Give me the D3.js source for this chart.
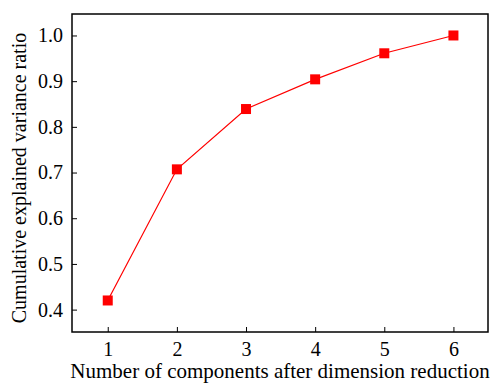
<!DOCTYPE html>
<html>
<head>
<meta charset="utf-8">
<script src="https://cdn.jsdelivr.net/npm/d3@7"></script>
<style>
  body { margin: 0; background: #fff; }
  svg { display: block; }
</style>
</head>
<body>
<div id="container"></div>
<script>
/* data */
const components = [1, 2, 3, 4, 5, 6];
const cumRatio = [0.42, 0.707, 0.839, 0.904, 0.961, 1.0];
const xTicks = [1, 2, 3, 4, 5, 6];
const yTicks = [0.4, 0.5, 0.6, 0.7, 0.8, 0.9, 1.0];

const width = 495, height = 383;
const margin = {left: 72, top: 14, right: 7, bottom: 51};
const fontPolice = "'Liberation Serif', 'Times New Roman', serif";

const svg = d3.select("#container").append("svg")
  .attr("width", width)
  .attr("height", height);

const x = d3.scaleLinear()
  .domain([0.483, 6.5])
  .range([margin.left, width - margin.right]);
const y = d3.scaleLinear()
  .domain([0.351, 1.047])
  .range([height - margin.bottom, margin.top]);

/* axes, ticks pointing inward */
const xAxis = svg.append("g")
  .attr("transform", "translate(0," + (height - margin.bottom) + ")")
  .call(d3.axisBottom(x).tickValues(xTicks).tickSize(-5).tickPadding(10).tickFormat(d3.format("d")));
const yAxis = svg.append("g")
  .attr("transform", "translate(" + margin.left + ",0)")
  .call(d3.axisLeft(y).tickValues(yTicks).tickSize(-5).tickPadding(9).tickFormat(d3.format(".1f")));

[xAxis, yAxis].forEach(function(a) {
  a.attr("font-family", fontPolice).attr("font-size", 20);
  a.select(".domain").remove();
  a.selectAll(".tick line").attr("stroke", "#000").attr("stroke-width", 1);
  a.selectAll(".tick text").attr("fill", "#000");
});

/* frame */
svg.append("rect")
  .attr("x", margin.left)
  .attr("y", margin.top)
  .attr("width", width - margin.right - margin.left)
  .attr("height", height - margin.bottom - margin.top)
  .attr("fill", "none")
  .attr("stroke", "#000")
  .attr("stroke-width", 1.5);

/* line */
const line = d3.line()
  .x(function(d, i) { return x(components[i]); })
  .y(function(d) { return y(d); });

svg.append("path")
  .datum(cumRatio)
  .attr("d", line)
  .attr("fill", "none")
  .attr("stroke", "#ff0000")
  .attr("stroke-width", 1.2);

/* markers */
const ms = 10;
svg.selectAll("rect.marker")
  .data(cumRatio)
  .enter().append("rect")
    .attr("class", "marker")
    .attr("x", function(d, i) { return x(components[i]) - ms / 2; })
    .attr("y", function(d) { return y(d) - ms / 2; })
    .attr("width", ms)
    .attr("height", ms)
    .attr("fill", "#ff0000");

/* axis titles */
svg.append("text")
  .attr("x", 280)
  .attr("y", 378)
  .style("text-anchor", "middle")
  .style("font-family", fontPolice)
  .style("font-size", "21px")
  .text("Number of components after dimension reduction");

svg.append("text")
  .attr("transform", "translate(26,178) rotate(-90)")
  .style("text-anchor", "middle")
  .style("font-family", fontPolice)
  .style("font-size", "20px")
  .text("Cumulative explained variance ratio");
</script>
</body>
</html>
